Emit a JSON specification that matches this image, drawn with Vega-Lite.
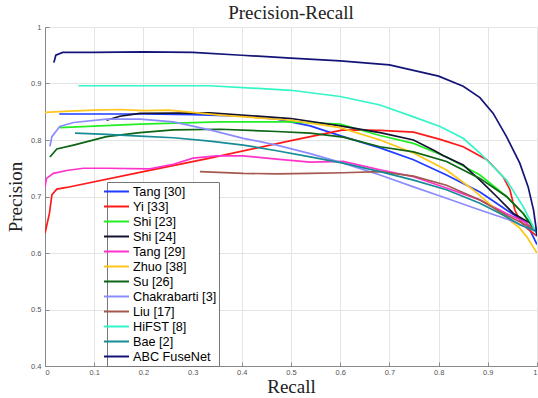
{
"$schema":"https://vega.github.io/schema/vega-lite/v6.json",
"width":492,"height":339,
"autosize":{"type":"none"},
"padding":{"left":45,"top":27,"right":1,"bottom":32},
"background":"white",
"title":{"text":"Precision-Recall","font":"Liberation Serif","fontSize":19,"fontWeight":"normal","offset":0,"color":"#222"},
"config":{"view":{"stroke":null},
"axis":{"labelFont":"Liberation Sans","labelFontSize":7.5,"labelColor":"#555","domainColor":"#888","tickColor":"#888","gridColor":"#e4e4e4","titleFont":"Liberation Serif","titleFontSize":19,"titleFontWeight":"normal","titleColor":"#222"}},
"data":{"values":[
{"m":"Tang [30]","r":0.029,"p":0.846},{"m":"Tang [30]","r":0.1,"p":0.846},{"m":"Tang [30]","r":0.2,"p":0.846},{"m":"Tang [30]","r":0.3,"p":0.845},{"m":"Tang [30]","r":0.403,"p":0.842},{"m":"Tang [30]","r":0.471,"p":0.837},{"m":"Tang [30]","r":0.539,"p":0.825},{"m":"Tang [30]","r":0.606,"p":0.806},{"m":"Tang [30]","r":0.681,"p":0.786},{"m":"Tang [30]","r":0.749,"p":0.765},{"m":"Tang [30]","r":0.816,"p":0.738},{"m":"Tang [30]","r":0.884,"p":0.708},{"m":"Tang [30]","r":0.938,"p":0.676},{"m":"Tang [30]","r":0.979,"p":0.653},{"m":"Tang [30]","r":1.0,"p":0.615},
{"m":"Yi [33]","r":0,"p":0.635},{"m":"Yi [33]","r":0.009,"p":0.67},{"m":"Yi [33]","r":0.014,"p":0.703},{"m":"Yi [33]","r":0.024,"p":0.713},{"m":"Yi [33]","r":0.044,"p":0.716},{"m":"Yi [33]","r":0.2,"p":0.744},{"m":"Yi [33]","r":0.335,"p":0.768},{"m":"Yi [33]","r":0.5,"p":0.799},{"m":"Yi [33]","r":0.606,"p":0.818},{"m":"Yi [33]","r":0.681,"p":0.817},{"m":"Yi [33]","r":0.749,"p":0.814},{"m":"Yi [33]","r":0.803,"p":0.801},{"m":"Yi [33]","r":0.85,"p":0.788},{"m":"Yi [33]","r":0.898,"p":0.765},{"m":"Yi [33]","r":0.931,"p":0.735},{"m":"Yi [33]","r":0.945,"p":0.712},{"m":"Yi [33]","r":0.955,"p":0.676},{"m":"Yi [33]","r":0.965,"p":0.658},{"m":"Yi [33]","r":0.979,"p":0.644},{"m":"Yi [33]","r":1.0,"p":0.63},
{"m":"Shi [23]","r":0.03,"p":0.822},{"m":"Shi [23]","r":0.193,"p":0.828},{"m":"Shi [23]","r":0.356,"p":0.832},{"m":"Shi [23]","r":0.5,"p":0.832},{"m":"Shi [23]","r":0.6,"p":0.828},{"m":"Shi [23]","r":0.681,"p":0.808},{"m":"Shi [23]","r":0.749,"p":0.794},{"m":"Shi [23]","r":0.816,"p":0.77},{"m":"Shi [23]","r":0.884,"p":0.738},{"m":"Shi [23]","r":0.938,"p":0.7},{"m":"Shi [23]","r":0.972,"p":0.67},{"m":"Shi [23]","r":1.0,"p":0.635},
{"m":"Shi [24]","r":0.125,"p":0.835},{"m":"Shi [24]","r":0.152,"p":0.842},{"m":"Shi [24]","r":0.193,"p":0.847},{"m":"Shi [24]","r":0.335,"p":0.848},{"m":"Shi [24]","r":0.5,"p":0.838},{"m":"Shi [24]","r":0.6,"p":0.825},{"m":"Shi [24]","r":0.681,"p":0.813},{"m":"Shi [24]","r":0.749,"p":0.8},{"m":"Shi [24]","r":0.79,"p":0.782},{"m":"Shi [24]","r":0.81,"p":0.772},{"m":"Shi [24]","r":0.85,"p":0.756},{"m":"Shi [24]","r":0.884,"p":0.729},{"m":"Shi [24]","r":0.918,"p":0.7},{"m":"Shi [24]","r":0.952,"p":0.67},{"m":"Shi [24]","r":0.986,"p":0.653},{"m":"Shi [24]","r":1.0,"p":0.635},
{"m":"Tang [29]","r":0,"p":0.716},{"m":"Tang [29]","r":0.003,"p":0.732},{"m":"Tang [29]","r":0.017,"p":0.741},{"m":"Tang [29]","r":0.044,"p":0.746},{"m":"Tang [29]","r":0.078,"p":0.75},{"m":"Tang [29]","r":0.125,"p":0.75},{"m":"Tang [29]","r":0.213,"p":0.749},{"m":"Tang [29]","r":0.261,"p":0.757},{"m":"Tang [29]","r":0.301,"p":0.768},{"m":"Tang [29]","r":0.349,"p":0.772},{"m":"Tang [29]","r":0.403,"p":0.772},{"m":"Tang [29]","r":0.471,"p":0.766},{"m":"Tang [29]","r":0.539,"p":0.761},{"m":"Tang [29]","r":0.606,"p":0.762},{"m":"Tang [29]","r":0.681,"p":0.747},{"m":"Tang [29]","r":0.749,"p":0.735},{"m":"Tang [29]","r":0.816,"p":0.715},{"m":"Tang [29]","r":0.884,"p":0.694},{"m":"Tang [29]","r":0.938,"p":0.67},{"m":"Tang [29]","r":0.979,"p":0.653},{"m":"Tang [29]","r":1.0,"p":0.635},
{"m":"Zhuo [38]","r":0,"p":0.849},{"m":"Zhuo [38]","r":0.05,"p":0.851},{"m":"Zhuo [38]","r":0.1,"p":0.853},{"m":"Zhuo [38]","r":0.152,"p":0.854},{"m":"Zhuo [38]","r":0.2,"p":0.852},{"m":"Zhuo [38]","r":0.25,"p":0.853},{"m":"Zhuo [38]","r":0.3,"p":0.849},{"m":"Zhuo [38]","r":0.356,"p":0.844},{"m":"Zhuo [38]","r":0.5,"p":0.835},{"m":"Zhuo [38]","r":0.6,"p":0.822},{"m":"Zhuo [38]","r":0.681,"p":0.8},{"m":"Zhuo [38]","r":0.749,"p":0.777},{"m":"Zhuo [38]","r":0.816,"p":0.747},{"m":"Zhuo [38]","r":0.87,"p":0.712},{"m":"Zhuo [38]","r":0.918,"p":0.676},{"m":"Zhuo [38]","r":0.965,"p":0.644},{"m":"Zhuo [38]","r":0.979,"p":0.629},{"m":"Zhuo [38]","r":1.0,"p":0.6},
{"m":"Su [26]","r":0.01,"p":0.77},{"m":"Su [26]","r":0.024,"p":0.784},{"m":"Su [26]","r":0.058,"p":0.791},{"m":"Su [26]","r":0.125,"p":0.806},{"m":"Su [26]","r":0.193,"p":0.813},{"m":"Su [26]","r":0.261,"p":0.818},{"m":"Su [26]","r":0.356,"p":0.819},{"m":"Su [26]","r":0.471,"p":0.815},{"m":"Su [26]","r":0.539,"p":0.812},{"m":"Su [26]","r":0.606,"p":0.805},{"m":"Su [26]","r":0.681,"p":0.788},{"m":"Su [26]","r":0.749,"p":0.779},{"m":"Su [26]","r":0.816,"p":0.762},{"m":"Su [26]","r":0.884,"p":0.732},{"m":"Su [26]","r":0.938,"p":0.7},{"m":"Su [26]","r":0.972,"p":0.67},{"m":"Su [26]","r":1.0,"p":0.635},
{"m":"Chakrabarti [3]","r":0.01,"p":0.789},{"m":"Chakrabarti [3]","r":0.014,"p":0.806},{"m":"Chakrabarti [3]","r":0.03,"p":0.824},{"m":"Chakrabarti [3]","r":0.058,"p":0.831},{"m":"Chakrabarti [3]","r":0.125,"p":0.837},{"m":"Chakrabarti [3]","r":0.193,"p":0.837},{"m":"Chakrabarti [3]","r":0.261,"p":0.832},{"m":"Chakrabarti [3]","r":0.335,"p":0.818},{"m":"Chakrabarti [3]","r":0.403,"p":0.803},{"m":"Chakrabarti [3]","r":0.471,"p":0.791},{"m":"Chakrabarti [3]","r":0.539,"p":0.776},{"m":"Chakrabarti [3]","r":0.606,"p":0.759},{"m":"Chakrabarti [3]","r":0.681,"p":0.738},{"m":"Chakrabarti [3]","r":0.749,"p":0.717},{"m":"Chakrabarti [3]","r":0.816,"p":0.697},{"m":"Chakrabarti [3]","r":0.884,"p":0.676},{"m":"Chakrabarti [3]","r":0.952,"p":0.656},{"m":"Chakrabarti [3]","r":1.0,"p":0.637},
{"m":"Liu [17]","r":0.315,"p":0.744},{"m":"Liu [17]","r":0.403,"p":0.741},{"m":"Liu [17]","r":0.471,"p":0.74},{"m":"Liu [17]","r":0.539,"p":0.741},{"m":"Liu [17]","r":0.606,"p":0.742},{"m":"Liu [17]","r":0.681,"p":0.744},{"m":"Liu [17]","r":0.749,"p":0.736},{"m":"Liu [17]","r":0.816,"p":0.72},{"m":"Liu [17]","r":0.884,"p":0.694},{"m":"Liu [17]","r":0.938,"p":0.667},{"m":"Liu [17]","r":1.0,"p":0.64},
{"m":"HiFST [8]","r":0.068,"p":0.896},{"m":"HiFST [8]","r":0.2,"p":0.896},{"m":"HiFST [8]","r":0.335,"p":0.896},{"m":"HiFST [8]","r":0.5,"p":0.888},{"m":"HiFST [8]","r":0.6,"p":0.877},{"m":"HiFST [8]","r":0.681,"p":0.862},{"m":"HiFST [8]","r":0.749,"p":0.841},{"m":"HiFST [8]","r":0.803,"p":0.824},{"m":"HiFST [8]","r":0.85,"p":0.803},{"m":"HiFST [8]","r":0.884,"p":0.777},{"m":"HiFST [8]","r":0.938,"p":0.729},{"m":"HiFST [8]","r":0.972,"p":0.682},{"m":"HiFST [8]","r":0.992,"p":0.647},{"m":"HiFST [8]","r":1.0,"p":0.632},
{"m":"Bae [2]","r":0.061,"p":0.812},{"m":"Bae [2]","r":0.125,"p":0.81},{"m":"Bae [2]","r":0.193,"p":0.807},{"m":"Bae [2]","r":0.261,"p":0.804},{"m":"Bae [2]","r":0.335,"p":0.798},{"m":"Bae [2]","r":0.403,"p":0.791},{"m":"Bae [2]","r":0.471,"p":0.781},{"m":"Bae [2]","r":0.539,"p":0.77},{"m":"Bae [2]","r":0.606,"p":0.759},{"m":"Bae [2]","r":0.681,"p":0.744},{"m":"Bae [2]","r":0.749,"p":0.729},{"m":"Bae [2]","r":0.816,"p":0.712},{"m":"Bae [2]","r":0.884,"p":0.688},{"m":"Bae [2]","r":0.938,"p":0.664},{"m":"Bae [2]","r":0.965,"p":0.65},{"m":"Bae [2]","r":1.0,"p":0.638},
{"m":"ABC FuseNet","r":0.018,"p":0.937},{"m":"ABC FuseNet","r":0.022,"p":0.95},{"m":"ABC FuseNet","r":0.036,"p":0.955},{"m":"ABC FuseNet","r":0.1,"p":0.955},{"m":"ABC FuseNet","r":0.2,"p":0.956},{"m":"ABC FuseNet","r":0.3,"p":0.955},{"m":"ABC FuseNet","r":0.4,"p":0.95},{"m":"ABC FuseNet","r":0.5,"p":0.945},{"m":"ABC FuseNet","r":0.6,"p":0.94},{"m":"ABC FuseNet","r":0.7,"p":0.933},{"m":"ABC FuseNet","r":0.8,"p":0.913},{"m":"ABC FuseNet","r":0.85,"p":0.895},{"m":"ABC FuseNet","r":0.884,"p":0.875},{"m":"ABC FuseNet","r":0.911,"p":0.847},{"m":"ABC FuseNet","r":0.938,"p":0.806},{"m":"ABC FuseNet","r":0.965,"p":0.759},{"m":"ABC FuseNet","r":0.982,"p":0.717},{"m":"ABC FuseNet","r":0.993,"p":0.676},{"m":"ABC FuseNet","r":0.998,"p":0.645},{"m":"ABC FuseNet","r":1.0,"p":0.63}
]},
"mark":{"type":"line","strokeWidth":1.7,"clip":true},
"encoding":{
"x":{"field":"r","type":"quantitative","title":"Recall","scale":{"domain":[0,1],"nice":false},"axis":{"values":[0,0.1,0.2,0.3,0.4,0.5,0.6,0.7,0.8,0.9,1],"format":"~g","tickSize":-4,"labelPadding":6,"titlePadding":2}},
"y":{"field":"p","type":"quantitative","title":"Precision","scale":{"domain":[0.4,1],"nice":false,"zero":false},"axis":{"values":[0.4,0.5,0.6,0.7,0.8,0.9,1],"format":"~g","tickSize":-4,"labelPadding":8,"titlePadding":5}},
"color":{"field":"m","type":"nominal","scale":{"domain":["Tang [30]","Yi [33]","Shi [23]","Shi [24]","Tang [29]","Zhuo [38]","Su [26]","Chakrabarti [3]","Liu [17]","HiFST [8]","Bae [2]","ABC FuseNet"],"range":["#1F3CFF","#FF1A1A","#22EE22","#141432","#FF33CC","#FFC619","#0C6414","#8C8CFF","#A5584E","#33F5C8","#178C96","#141478"]},
"legend":{"orient":"none","legendX":62,"legendY":155,"title":null,"symbolType":"M-2,0L2,0","symbolSize":156,"symbolStrokeWidth":2,"labelFont":"Liberation Sans","labelFontSize":12.7,"labelColor":"#000","strokeColor":"#777","fillColor":"white","padding":2,"rowPadding":0,"labelOffset":9,"labelLimit":200}}
}
}
